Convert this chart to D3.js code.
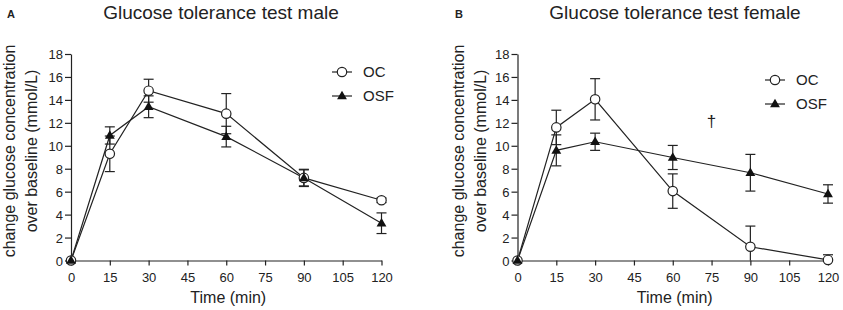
<!DOCTYPE html>
<html>
<head>
<meta charset="utf-8">
<script src="https://cdn.jsdelivr.net/npm/d3@7"></script>
<style>
  body { margin: 0; background: #fff; }
  text { font-family: "Liberation Sans", Arial, sans-serif; fill: #222; }
</style>
</head>
<body>
<svg id="chart" width="843" height="310"></svg>
<script>
// time points (min) and tick labels
const times = [0, 15, 30, 60, 90, 120];
const xTicks = [0, 15, 30, 45, 60, 75, 90, 105, 120];
const yTicks = [0, 2, 4, 6, 8, 10, 12, 14, 16, 18];

// male panel
const maleOC = [0, 9.3, 14.8, 12.8, 7.2, 5.25];
const maleOCerr = [0, 1.55, 1.0, 1.75, 0.7, 0.2];
const maleOSF = [0, 10.9, 13.4, 10.8, 7.2, 3.25];
const maleOSFerr = [0, 0.75, 0.95, 0.9, 0.75, 0.9];

// female panel
const femaleOC = [0, 11.6, 14.05, 6.05, 1.2, 0.05];
const femaleOCerr = [0, 1.5, 1.8, 1.5, 1.8, 0.45];
const femaleOSF = [0, 9.6, 10.35, 8.98, 7.65, 5.8];
const femaleOSFerr = [0, 1.35, 0.75, 1.05, 1.6, 0.8];

const svg = d3.select("#chart");

function drawPanel(p) {
  const x = d3.scaleLinear().domain([0, 120]).range([p.x0, p.x1]);
  const y = d3.scaleLinear().domain([0, 18]).range([260.5, 54]);
  const g = svg.append("g");

  // panel letter + title
  g.append("text").attr("x", p.letterX).attr("y", 17.5)
    .style("font-size", "11px").style("font-weight", "bold").text(p.letter);
  g.append("text").attr("x", p.titleX).attr("y", 18.5)
    .attr("text-anchor", "middle").style("font-size", "19px").text(p.title);

  // axes
  const xAxis = g.append("g").attr("transform", "translate(0,260.5)")
    .call(d3.axisBottom(x).tickValues(xTicks).tickSize(5).tickSizeOuter(0));
  const yAxis = g.append("g").attr("transform", "translate(" + p.x0 + ",0)")
    .call(d3.axisLeft(y).tickValues(yTicks).tickSize(6).tickSizeOuter(0));
  [xAxis, yAxis].forEach(a => {
    a.select(".domain").attr("stroke", "#222").attr("stroke-width", 1.2);
    a.selectAll(".tick line").attr("stroke", "#222").attr("stroke-width", 1.2);
    a.selectAll("text").style("font-size", "13px")
      .style("font-family", "'Liberation Sans', Arial, sans-serif").attr("fill", "#222");
  });
  yAxis.selectAll("text").attr("dy", "0.36em").attr("x", -8);
  xAxis.selectAll("text").attr("y", 12);

  // axis labels
  g.append("text").attr("x", (p.x0 + p.x1) / 2 + 2).attr("y", 303)
    .attr("text-anchor", "middle").style("font-size", "16px").text("Time (min)");
  g.append("text").attr("transform", "translate(" + p.ylab1 + ",151) rotate(-90)")
    .attr("text-anchor", "middle").style("font-size", "16px").text("change glucose concentration");
  g.append("text").attr("transform", "translate(" + p.ylab2 + ",151) rotate(-90)")
    .attr("text-anchor", "middle").style("font-size", "16px").text("over baseline (mmol/L)");

  const series = [
    { name: "OC", vals: p.oc, errs: p.ocErr, shape: "circle" },
    { name: "OSF", vals: p.osf, errs: p.osfErr, shape: "triangle" }
  ];

  const line = d3.line().x((d, i) => x(times[i])).y(d => y(d));
  series.forEach(s => {
    g.append("path").attr("d", line(s.vals))
      .attr("fill", "none").attr("stroke", "#222").attr("stroke-width", 1.2);
  });

  // error bars
  series.forEach(s => {
    s.vals.forEach((v, i) => {
      const e = s.errs[i];
      if (!e) return;
      const hi = v + e, lo = Math.max(0, v - e);
      const cx = x(times[i]);
      g.append("line").attr("x1", cx).attr("x2", cx).attr("y1", y(hi)).attr("y2", y(lo))
        .attr("stroke", "#222").attr("stroke-width", 1.2);
      g.append("line").attr("x1", cx - 5).attr("x2", cx + 5).attr("y1", y(hi)).attr("y2", y(hi))
        .attr("stroke", "#222").attr("stroke-width", 1.2);
      if (v - e > 0) {
        g.append("line").attr("x1", cx - 5).attr("x2", cx + 5).attr("y1", y(lo)).attr("y2", y(lo))
          .attr("stroke", "#222").attr("stroke-width", 1.2);
      }
    });
  });

  const tri = d3.symbol().type(d3.symbolTriangle).size(42);
  function marker(shape, cx, cy) {
    if (shape === "circle") {
      g.append("circle").attr("cx", cx).attr("cy", cy).attr("r", 4.7)
        .attr("fill", "#fff").attr("stroke", "#222").attr("stroke-width", 1.2);
    } else {
      g.append("path").attr("d", tri).attr("transform", "translate(" + cx + "," + (cy + 0.5) + ")")
        .attr("fill", "#111");
    }
  }
  series.forEach(s => s.vals.forEach((v, i) => marker(s.shape, x(times[i]), y(v))));

  // legend
  series.forEach((s, i) => {
    const ly = p.legY + i * 24;
    g.append("line").attr("x1", p.legX).attr("x2", p.legX + 20).attr("y1", ly).attr("y2", ly)
      .attr("stroke", "#222").attr("stroke-width", 1.2);
    marker(s.shape, p.legX + 10, ly);
    g.append("text").attr("x", p.legX + 31).attr("y", ly).attr("dy", "0.36em")
      .style("font-size", "15px").text(s.name);
  });

  if (p.dagger) {
    g.append("text").attr("x", x(p.dagger.t)).attr("y", y(p.dagger.v)).attr("dy", "0.36em")
      .attr("text-anchor", "middle").style("font-size", "17px").text("†");
  }
}

drawPanel({
  letter: "A", letterX: 7, title: "Glucose tolerance test male", titleX: 221,
  x0: 71, x1: 381.5, ylab1: 14.5, ylab2: 36.5, legX: 332, legY: 72,
  oc: maleOC, ocErr: maleOCerr, osf: maleOSF, osfErr: maleOSFerr
});
drawPanel({
  letter: "B", letterX: 455, title: "Glucose tolerance test female", titleX: 675,
  x0: 517.5, x1: 828, ylab1: 464, ylab2: 486, legX: 765, legY: 80,
  oc: femaleOC, ocErr: femaleOCerr, osf: femaleOSF, osfErr: femaleOSFerr,
  dagger: { t: 75, v: 12.2 }
});
</script>
</body>
</html>
